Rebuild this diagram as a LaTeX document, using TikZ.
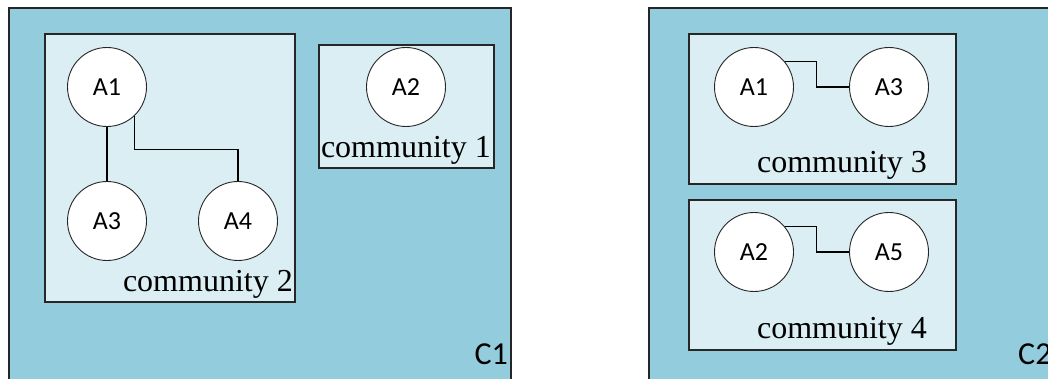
\documentclass[tikz,border=0pt]{standalone}
\usepackage{fontspec}
\setmainfont{Liberation Serif}
\newfontfamily\labelfont{Carlito}
\usetikzlibrary{calc}
\definecolor{outerfill}{HTML}{93CDDD}
\definecolor{innerfill}{HTML}{DBEEF4}
\tikzset{
  cluster/.style={draw=black!85, line width=1.3pt, fill=outerfill},
  community/.style={draw=black!85, line width=1.3pt, fill=innerfill},
  agent/.style={circle, draw=black!85, line width=0.9pt, fill=white,
    minimum size=79pt, inner sep=0pt, font=\labelfont\fontsize{26}{28}\selectfont},
  link/.style={draw=black, line width=1.1pt},
  commlabel/.style={anchor=base east, inner sep=0pt, font=\fontsize{32}{36}\selectfont},
  clusterlabel/.style={anchor=base east, inner sep=0pt, font=\labelfont\fontsize{32}{36}\selectfont}
}
\begin{document}
\begin{tikzpicture}[x=1pt, y=-1pt]
\clip (0,0) rectangle (1048,379);
\fill[white] (0,0) rectangle (1048,379);

% cluster C1
\draw[cluster] (9,8) rectangle (511,400);
\draw[community] (45,34) rectangle (295,302);
\draw[community] (319,45) rectangle (494,168);
\node[agent] (a1) at (107,87) {A1};
\node[agent] (a3) at (107,221) {A3};
\node[agent] (a4) at (238,221) {A4};
\node[agent] (a2) at (406,87) {A2};
\draw[link] (a1) -- (a3);
\draw[link] (a1.-47) -- ++(0,33) -| (a4.north);
\node[commlabel] (c2) at (293,291) {community 2};
\node[commlabel] (c1) at (491,158) {community 1};
\node[clusterlabel] (k1) at (508,364) {C1};

% cluster C2
\draw[cluster] (649,8) rectangle (1100,400);
\draw[community] (689,34) rectangle (956,184);
\draw[community] (689,200) rectangle (956,350);
\node[agent] (b1) at (754,87) {A1};
\node[agent] (b3) at (889,87) {A3};
\node[agent] (b2) at (754,252) {A2};
\node[agent] (b5) at (889,252) {A5};
\draw[link] (b1.40) -| ($(b1.40)!.5!(b3.west)$) |- (b3.west);
\draw[link] (b2.40) -| ($(b2.40)!.5!(b5.west)$) |- (b5.west);
\node[commlabel] (c3) at (927,173) {community 3};
\node[commlabel] (c4) at (927,338) {community 4};
\node[clusterlabel, anchor=base west] (k2) at (1018,364) {C2};
\end{tikzpicture}
\end{document}
